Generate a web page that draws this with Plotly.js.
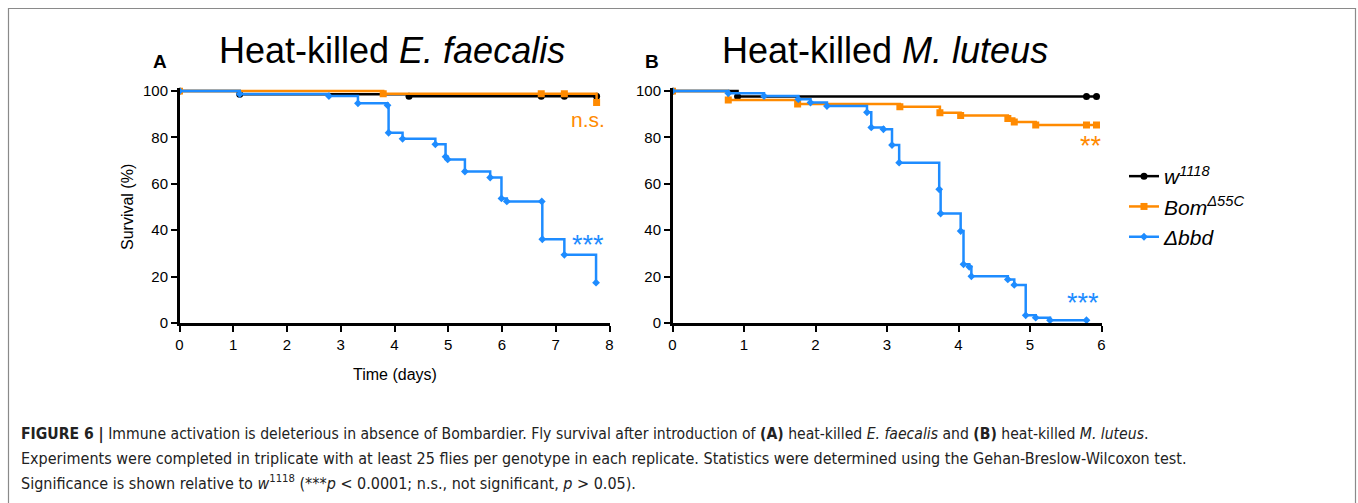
<!DOCTYPE html>
<html>
<head>
<meta charset="utf-8">
<script src="https://cdn.plot.ly/plotly-3.0.1.min.js"></script>
<style>
html,body{margin:0;padding:0;background:#fff;}
#chart{width:1358px;height:503px;}
</style>
</head>
<body>
<div id="chart"></div>
<script>
// ---- Data ----
// Panel A: heat-killed E. faecalis
const tA_w1118 = [0, 1.12, 4.27, 6.73, 7.16, 7.76];
const sA_w1118 = [100, 98.6, 97.7, 97.7, 97.7, 97.7];
const tA_bom = [0, 3.79, 6.73, 7.16, 7.76];
const sA_bom = [100, 98.8, 98.8, 98.8, 95.0];
const tA_bbd = [0, 1.12, 2.78, 3.32, 3.87, 3.89, 4.15, 4.76, 4.95, 4.99, 5.31, 5.78, 5.99, 6.09, 6.74, 6.75, 7.16, 7.75];
const sA_bbd = [100, 98.7, 97.8, 94.7, 93.8, 82.0, 79.4, 77.0, 71.7, 70.5, 65.3, 62.7, 53.7, 52.4, 52.4, 36.1, 29.4, 17.4];

// Panel B: heat-killed M. luteus
const tB_w1118 = [0, 0.91, 5.79, 5.93];
const sB_w1118 = [100, 97.6, 97.6, 97.6];
const tB_bom = [0, 0.78, 1.75, 3.18, 3.74, 4.03, 4.69, 4.78, 5.08, 5.79, 5.93];
const sB_bom = [100, 96.1, 94.4, 93.2, 90.6, 89.4, 88.1, 86.6, 85.3, 85.3, 85.3];
const tB_bbd = [0, 0.78, 1.28, 1.76, 1.93, 2.16, 2.72, 2.78, 2.95, 3.07, 3.17, 3.73, 3.75, 4.03, 4.07, 4.15, 4.18, 4.69, 4.78, 4.94, 5.08, 5.28, 5.79];
const sB_bbd = [100, 99.0, 97.8, 96.4, 95.0, 93.5, 90.8, 84.3, 83.5, 76.7, 69.1, 57.6, 47.2, 39.6, 25.3, 24.2, 20.1, 18.8, 16.4, 3.3, 2.3, 1.2, 1.2];

const seriesNames = ['<i>w</i><sup><i>1118</i></sup>', '<i>Bom</i><sup><i>Δ55C</i></sup>', '<i>Δbbd</i>'];
const colors = ['#000000', '#FF8A00', '#1E8CFF'];
const symbols = ['circle', 'square', 'diamond'];
const markerSizes = [7, 7, 6];

const xTicksA = [0, 1, 2, 3, 4, 5, 6, 7, 8];
const xTicksB = [0, 1, 2, 3, 4, 5, 6];
const yTicks = [0, 20, 40, 60, 80, 100];

// ---- Layout helpers ----
const W = 1358, H = 503;
const px = x => x / W;
const py = y => 1 - y / H;
const FONT = 'Liberation Sans, Arial, Helvetica, sans-serif';
const CAPFONT = 'Liberation Sans Narrow, DejaVu Sans Condensed, Liberation Sans, Arial, sans-serif';

function trace(t, s, i, xa, ya, show) {
  return {
    x: t, y: s, type: 'scatter', mode: 'lines+markers',
    line: {shape: 'hv', color: colors[i], width: 2.5},
    marker: {symbol: symbols[i], size: markerSizes[i], color: colors[i]},
    name: seriesNames[i], showlegend: show, legendgroup: 'g' + i,
    xaxis: xa, yaxis: ya, hoverinfo: 'x+y'
  };
}

const data = [
  trace(tA_w1118, sA_w1118, 0, 'x', 'y', true),
  trace(tA_bom, sA_bom, 1, 'x', 'y', true),
  trace(tA_bbd, sA_bbd, 2, 'x', 'y', true),
  trace(tB_w1118, sB_w1118, 0, 'x2', 'y2', false),
  trace(tB_bom, sB_bom, 1, 'x2', 'y2', false),
  trace(tB_bbd, sB_bbd, 2, 'x2', 'y2', false)
];

const axisCommon = {
  showgrid: false, zeroline: false, showline: true, linecolor: '#000', linewidth: 2.5,
  ticks: 'outside', ticklen: 6, tickwidth: 2, tickcolor: '#000',
  tickfont: {family: FONT, size: 15, color: '#000'}, fixedrange: true
};

const yDomain = [py(323), py(87.5)];

const layout = {
  width: W, height: H,
  margin: {l: 0, r: 0, t: 0, b: 0},
  paper_bgcolor: '#fff', plot_bgcolor: 'rgba(0,0,0,0)',
  font: {family: FONT, color: '#000'},
  xaxis: Object.assign({}, axisCommon, {domain: [px(179.5), px(609.5)], range: [0, 8], tickvals: xTicksA, anchor: 'y'}),
  yaxis: Object.assign({}, axisCommon, {domain: yDomain, range: [0, 101.5], tickvals: yTicks, anchor: 'x'}),
  xaxis2: Object.assign({}, axisCommon, {domain: [px(672.5), px(1101.5)], range: [0, 6], tickvals: xTicksB, anchor: 'y2'}),
  yaxis2: Object.assign({}, axisCommon, {domain: yDomain, range: [0, 101.5], tickvals: yTicks, anchor: 'x2'}),
  showlegend: true,
  legend: {
    x: px(1124), y: py(156), xanchor: 'left', yanchor: 'top',
    font: {family: FONT, size: 21, color: '#000'},
    bgcolor: 'rgba(0,0,0,0)', itemwidth: 30, tracegroupgap: 0
  },
  shapes: [
    {type: 'rect', xref: 'paper', yref: 'paper', x0: px(8.5), x1: px(1355.5), y0: py(520), y1: py(8.5),
     line: {color: '#8a8a8a', width: 1.2}, fillcolor: 'rgba(0,0,0,0)', layer: 'below'}
  ],
  annotations: [
    {text: '<b>A</b>', x: px(160), y: py(61), xref: 'paper', yref: 'paper', showarrow: false,
     font: {family: FONT, size: 19, color: '#000'}, xanchor: 'center', yanchor: 'middle'},
    {text: '<b>B</b>', x: px(652), y: py(61), xref: 'paper', yref: 'paper', showarrow: false,
     font: {family: FONT, size: 19, color: '#000'}, xanchor: 'center', yanchor: 'middle'},
    {text: 'Heat-killed <i>E. faecalis</i>', x: px(392), y: py(50), xref: 'paper', yref: 'paper', showarrow: false,
     font: {family: FONT, size: 36, color: '#000'}, xanchor: 'center', yanchor: 'middle'},
    {text: 'Heat-killed <i>M. luteus</i>', x: px(885), y: py(50), xref: 'paper', yref: 'paper', showarrow: false,
     font: {family: FONT, size: 36, color: '#000'}, xanchor: 'center', yanchor: 'middle'},
    {text: 'Survival (%)', x: px(127), y: py(207), xref: 'paper', yref: 'paper', showarrow: false, textangle: -90,
     font: {family: FONT, size: 16, color: '#000'}, xanchor: 'center', yanchor: 'middle'},
    {text: 'Time (days)', x: px(394.5), y: py(374), xref: 'paper', yref: 'paper', showarrow: false,
     font: {family: FONT, size: 16, color: '#000'}, xanchor: 'center', yanchor: 'middle'},
    {text: 'n.s.', x: px(588), y: py(120), xref: 'paper', yref: 'paper', showarrow: false,
     font: {family: FONT, size: 21, color: '#FF8A00'}, xanchor: 'center', yanchor: 'middle'},
    {text: '***', x: px(588), y: py(245), xref: 'paper', yref: 'paper', showarrow: false,
     font: {family: FONT, size: 27, color: '#1E8CFF'}, xanchor: 'center', yanchor: 'middle'},
    {text: '**', x: px(1091), y: py(146), xref: 'paper', yref: 'paper', showarrow: false,
     font: {family: FONT, size: 27, color: '#FF8A00'}, xanchor: 'center', yanchor: 'middle'},
    {text: '***', x: px(1083), y: py(303), xref: 'paper', yref: 'paper', showarrow: false,
     font: {family: FONT, size: 27, color: '#1E8CFF'}, xanchor: 'center', yanchor: 'middle'},
    {text: '<b>FIGURE 6 |</b> Immune activation is deleterious in absence of Bombardier. Fly survival after introduction of <b>(A)</b> heat-killed <i>E. faecalis</i> and <b>(B)</b> heat-killed <i>M. luteus</i>.',
     x: px(19), y: py(434), xref: 'paper', yref: 'paper', showarrow: false,
     font: {family: CAPFONT, size: 15.6, color: '#222'}, xanchor: 'left', yanchor: 'middle'},
    {text: 'Experiments were completed in triplicate with at least 25 flies per genotype in each replicate. Statistics were determined using the Gehan-Breslow-Wilcoxon test.',
     x: px(19), y: py(458), xref: 'paper', yref: 'paper', showarrow: false,
     font: {family: CAPFONT, size: 16, color: '#222'}, xanchor: 'left', yanchor: 'middle'},
    {text: 'Significance is shown relative to <i>w</i><sup>1118</sup> (***<i>p</i> &lt; 0.0001; n.s., not significant, <i>p</i> &gt; 0.05).',
     x: px(19), y: py(482), xref: 'paper', yref: 'paper', showarrow: false,
     font: {family: CAPFONT, size: 16, color: '#222'}, xanchor: 'left', yanchor: 'middle'}
  ]
};

Plotly.newPlot('chart', data, layout, {staticPlot: true, displayModeBar: false});
</script>
</body>
</html>
